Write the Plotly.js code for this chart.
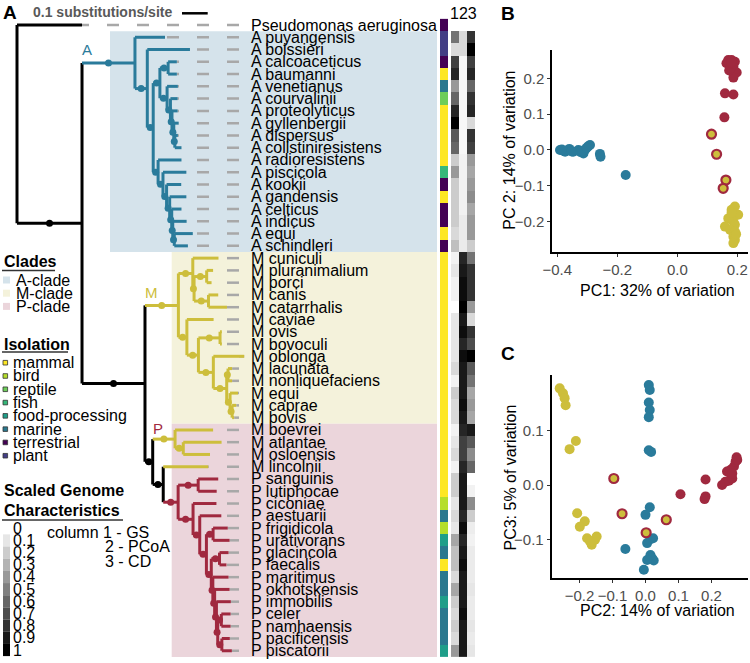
<!DOCTYPE html>
<html><head><meta charset="utf-8">
<script src="https://cdn.plot.ly/plotly-3.0.1.min.js"></script>
<style>html,body{margin:0;padding:0;background:#fff}#chart{width:750px;height:663px}</style>
</head><body><div id="chart"></div>
<script>
// ---------------- DATA ----------------
// Phylogeny (branch lengths in substitutions/site)
const treeNewick = "(Pseudomonas_aeruginosa:0.253,((A_puyangensis:0.117,(A_boissieri:0.166,(((A_calcoaceticus:0.034,A_baumanni:0.034):0.032,(A_venetianus:0.042,(A_courvalinii:0.028,(A_proteolyticus:0.022,(A_gyllenbergii:0.019,(A_dispersus:0.012,A_colistiniresistens:0.026):0.004):0.007):0.006):0.013):0.028):0.026,(A_radioresistens:0.091,(A_piscicola:0.091,(A_kookii:0.057,(A_gandensis:0.065,(A_celticus:0.038,(A_indicus:0.054,(A_equi:0.072,A_schindleri:0.053):0.006):0.004):0.008):0.012):0.014):0.019):0.019):0.023):0.048):0.206,(((M_cuniculi:0.100,((M_pluranimalium:0.025,M_porci:0.019):0.049,(M_canis:0.038,M_catarrhalis:0.072):0.056):0.005):0.056,(M_caviae:0.104,((M_ovis:0.007,M_bovoculi:0.007):0.084,(M_oblonga:0.120,((M_lacunata:0.016,M_nonliquefaciens:0.016):0.005,(M_equi:0.031,(M_caprae:0.016,M_bovis:0.008):0.008):0.013):0.052):0.058):0.045):0.033):0.130,((M_boevrei:0.148,(M_atlantae:0.149,M_osloensis:0.104):0.032):0.087,(M_lincolnii:0.175,((P_sanguinis:0.078,P_lutiphocae:0.072):0.078,(P_ciconiae:0.091,(P_aestuarii:0.084,((P_frigidicola:0.057,P_urativorans:0.064):0.026,((P_glacincola:0.035,P_faecalis:0.027):0.032,(P_maritimus:0.061,(P_okhotskensis:0.058,(P_immobilis:0.056,((P_celer:0.036,P_namhaensis:0.036):0.014,(P_pacificensis:0.031,P_piscatorii:0.039):0.016):0.005):0.007):0.007):0.006):0.019):0.026):0.026):0.058):0.058):0.041):0.030):0.245):0.253);";

const taxa = ['Pseudomonas aeruginosa','A puyangensis','A boissieri','A calcoaceticus','A baumanni','A venetianus','A courvalinii','A proteolyticus','A gyllenbergii','A dispersus','A colistiniresistens','A radioresistens','A piscicola','A kookii','A gandensis','A celticus','A indicus','A equi','A schindleri','M cuniculi','M pluranimalium','M porci','M canis','M catarrhalis','M caviae','M ovis','M bovoculi','M oblonga','M lacunata','M nonliquefaciens','M equi','M caprae','M bovis','M boevrei','M atlantae','M osloensis','M lincolnii','P sanguinis','P lutiphocae','P ciconiae','P aestuarii','P frigidicola','P urativorans','P glacincola','P faecalis','P maritimus','P okhotskensis','P immobilis','P celer','P namhaensis','P pacificensis','P piscatorii'];

const isolationCategories = ['mammal','bird','reptile','fish','food-processing','marine','terrestrial','plant'];
const isolationColors = ['#FDE725','#B5DE2B','#6DCD59','#35B779','#1F9E89','#2A788E','#440154','#433E85'];
const taxonIsolation = ['terrestrial','plant','plant','terrestrial','mammal','marine','reptile','mammal','mammal','mammal','mammal','mammal','fish','terrestrial','mammal','terrestrial','terrestrial','mammal','terrestrial',
 'mammal','mammal','mammal','mammal','mammal','mammal','mammal','mammal','mammal','mammal','mammal','mammal','mammal','mammal','mammal','mammal','mammal','mammal','mammal','mammal',
 'bird','marine','bird','food-processing','marine','mammal','marine','marine','food-processing','marine','marine','marine','food-processing'];

const heatColumns = ['1','2','3'];
const gsScaled   = [null,0.55,0.15,0.75,0.85,0.4,0.6,0.85,1.0,0.65,0.6,0.2,0.4,0.2,0.2,0.2,0.2,0.15,0.25, 0.05,0.1,0.05,0.05,0.0,0.1,0.1,0.1,0.1,0.15,0.05,0.2,0.15,0.15, 0.05,0.1,0.15,0.05, 0.2,0.2,0.1,0.15,0.1,0.35,0.25,0.25,0.15,0.35,0.2,0.15,0.2,0.15,0.4];
const pcoaScaled = [null,0.15,0.15,0.03,0.03,0.03,0.03,0.03,0.03,0.03,0.03,0.05,0.05,0.05,0.05,0.05,0.08,0.08,0.08, 0.85,0.9,0.95,0.95,1.0,0.9,0.95,0.85,0.95,0.9,0.9,0.9,0.95,0.9, 0.85,0.75,0.75,0.85, 0.9,0.9,0.9,0.85,0.95,0.85,0.9,0.95,0.9,0.9,0.9,0.95,0.9,0.9,0.9];
const cdScaled   = [null,0.8,1.0,0.75,0.85,0.6,0.8,0.85,0.15,0.8,0.75,0.4,0.35,0.4,0.45,0.35,0.4,0.4,0.2, 0.55,0.8,0.8,0.8,0.4,0.15,0.8,0.7,1.0,0.65,0.55,0.35,0.4,0.35, 0.9,0.65,0.45,0.6, 0.0,0.05,0.45,0.2,0.07,0.05,0.08,0.08,0.08,0.1,0.08,0.08,0.1,0.08,0.1];

const cladeNames = ['A-clade','M-clade','P-clade'];
const cladeFirst = ['A puyangensis','M cuniculi','M boevrei'];
const cladeLast  = ['A schindleri','M bovis','P piscatorii'];
const cladeBoxColors = ['#D5E3EB','#F4F2DB','#EBD5DB'];
const genusColors = {A:'#2A7B9B', M:'#CDBE3C', P:'#A0293F'};
const scaleLegendValues = [0,0.1,0.2,0.3,0.4,0.5,0.6,0.7,0.8,0.9,1];
const scaleLegendLabels = ['0','0.1','0.2','0.3','0.4','0.5','0.6','0.7','0.8','0.9','1'];
const scaleBarLength = 0.1;

// Panel B: PC1 vs PC2
const bA_pc1 = [-0.391,-0.374,-0.36,-0.347,-0.33,-0.313,-0.308,-0.297,-0.291,-0.38,-0.352,-0.322,-0.318,-0.302,-0.258,-0.256,-0.172,-0.385];
const bA_pc2 = [0.0,-0.005,0.003,-0.005,0.0,-0.01,0.0,0.01,0.014,-0.002,-0.004,-0.006,-0.002,0.006,-0.011,-0.019,-0.07,0.001];
const bP_pc1 = [0.17,0.181,0.192,0.176,0.187,0.164,0.198,0.187,0.173,0.178,0.183,0.159,0.187,0.157,0.18];
const bP_pc2 = [0.251,0.251,0.246,0.237,0.232,0.242,0.216,0.202,0.222,0.228,0.24,0.158,0.155,0.091,0.245];
const bM_pc1 = [0.192,0.181,0.203,0.17,0.187,0.159,0.192,0.176,0.192,0.187,0.192,0.187,0.181,0.196];
const bM_pc2 = [-0.158,-0.167,-0.181,-0.191,-0.2,-0.214,-0.209,-0.223,-0.228,-0.242,-0.251,-0.26,-0.175,-0.235];
const bMp_pc1 = [0.114,0.131,0.162,0.153];
const bMp_pc2 = [0.044,-0.012,-0.084,-0.107];

// Panel C: PC2 vs PC3
const cA_pc2 = [0.010,0.013,0.010,0.013,0.010,0.010,0.017,0.013,0.0,0.015,0.005,0.015,0.02,0.025,-0.005,-0.061,0.023,0.005];
const cA_pc3 = [0.184,0.175,0.152,0.138,0.125,0.064,0.061,-0.041,-0.055,-0.1,-0.107,-0.129,-0.135,-0.139,-0.156,-0.118,-0.098,-0.138];
const cP_pc2 = [0.106,0.182,0.182,0.179,0.232,0.242,0.253,0.263,0.247,0.258,0.268,0.273,0.276,0.278,0.263];
const cP_pc3 = [-0.017,0.010,-0.021,-0.026,0.0,0.006,0.008,0.012,0.025,0.028,0.034,0.043,0.051,0.046,0.021];
const cM_pc2 = [-0.26,-0.25,-0.245,-0.242,-0.211,-0.23,-0.207,-0.184,-0.199,-0.177,-0.163,-0.153,-0.148,-0.168];
const cM_pc3 = [0.178,0.169,0.16,0.147,0.081,0.066,-0.052,-0.067,-0.077,-0.098,-0.11,-0.101,-0.095,-0.104];
const cMp_pc2 = [-0.096,-0.071,0.002,0.063];
const cMp_pc3 = [0.012,-0.053,-0.088,-0.064];

// ---------------- LAYOUT CONSTANTS ----------------
const W = 750, H = 663;
const FONT = 'Liberation Sans, Arial, Helvetica, sans-serif';
const ROW0_PX = 25, ROW_PX = 12.27;     // row placement
const TREE_ORIGIN_PX = 17, PX_PER_SUB = 257, TREE_W_PX = 480;
const px2d = px => (px - TREE_ORIGIN_PX) / PX_PER_SUB;
const PX = px => px / W;
const PY = py => 1 - py / H;
const rowOfPx = py => (py - ROW0_PX) / ROW_PX;

// ---------------- TREE ----------------
function parseNewick(s){
  let i = 0;
  function node(){
    const n = {children:[], name:'', len:0};
    if (s[i] === '('){
      i++; n.children.push(node());
      while (s[i] === ','){ i++; n.children.push(node()); }
      i++;
    }
    let name = '';
    while (i < s.length && !':,);'.includes(s[i])) name += s[i++];
    n.name = name;
    if (s[i] === ':'){ i++; let num=''; while (i < s.length && !',);'.includes(s[i])) num += s[i++]; n.len = parseFloat(num); }
    return n;
  }
  return node();
}
const root = parseNewick(treeNewick);
let rowCounter = 0;
const leaves = [];
function layout(n, px){
  n.x = px + n.len;
  if (!n.children.length){
    n.y = rowCounter++; n.label = n.name.replace(/_/g,' ');
    n.genus = n.label.split(' ')[0]; leaves.push(n);
  } else {
    n.children.forEach(c => { c.parent = n; layout(c, n.x); });
    n.y = n.children.reduce((a,c)=>a+c.y,0)/n.children.length;
    const g = n.children[0].genus;
    n.genus = n.children.every(c => c.genus === g) ? g : null;
  }
}
root.len = 0; layout(root, 0);
const colorOf = n => genusColors[n.genus] || '#000000';

const segs = {}, dots = {};
function collect(n){
  const col = colorOf(n);
  segs[col] = segs[col] || {x:[],y:[]};
  if (n.parent){
    segs[col].x.push(n.parent.x, n.x, null); segs[col].y.push(n.y, n.y, null);
    if (n.children.length){
      dots[col] = dots[col] || {x:[],y:[]};
      dots[col].x.push((n.parent.x + n.x)/2); dots[col].y.push(n.y);
    }
  }
  if (n.children.length){
    const ys = n.children.map(c=>c.y);
    segs[col].x.push(n.x, n.x, null); segs[col].y.push(Math.min(...ys), Math.max(...ys), null);
    n.children.forEach(collect);
  }
}
collect(root);

const traces = [];
const leaderEnd = px2d(239);
leaves.forEach(l => traces.push({type:'scatter', mode:'lines', x:[leaderEnd, l.x], y:[l.y, l.y],
  line:{color:'#A8A8A8', width:2.5, dash:'12px,18px'}, xaxis:'x', yaxis:'y', hoverinfo:'skip', showlegend:false}));
Object.keys(segs).forEach(col => traces.push({type:'scatter', mode:'lines', x:segs[col].x, y:segs[col].y,
  line:{color:col, width:3}, xaxis:'x', yaxis:'y', hoverinfo:'skip', showlegend:false}));
Object.keys(dots).forEach(col => traces.push({type:'scatter', mode:'markers', x:dots[col].x, y:dots[col].y,
  marker:{color:col, size:7}, xaxis:'x', yaxis:'y', hoverinfo:'skip', showlegend:false}));

const leafRow = {}; leaves.forEach(l => leafRow[l.label] = l.y);
const rows = taxa.map(t => leafRow[t]);

// isolation column
const isoScale = [];
isolationColors.forEach((c,k) => { isoScale.push([k/8, c]); isoScale.push([(k+1)/8, c]); });
traces.push({type:'heatmap', x:[0], y:rows, z:taxonIsolation.map(v => [isolationCategories.indexOf(v)]),
  colorscale:isoScale, zmin:-0.5, zmax:7.5, showscale:false, xaxis:'x2', yaxis:'y', hoverinfo:'skip'});
// genome characteristics
traces.push({type:'heatmap', x:[1,2,3], y:rows, z:taxa.map((t,i) => [gsScaled[i], pcoaScaled[i], cdScaled[i]]),
  colorscale:[[0,'#ffffff'],[1,'#000000']], zmin:0, zmax:1, showscale:false, xaxis:'x3', yaxis:'y', hoverinfo:'skip'});

// PCA panels
function pts(x, y, ax, color, hollow){
  return {type:'scatter', mode:'markers', x, y, xaxis:'x'+ax, yaxis:'y'+ax, hoverinfo:'skip', showlegend:false,
    cliponaxis:false,
    marker: hollow ? {color:genusColors.M, size:9, line:{color:genusColors.P, width:2.2}}
                   : {color, size:10, line:{width:0}}};
}
traces.push(pts(bA_pc1,bA_pc2,4,genusColors.A), pts(bP_pc1,bP_pc2,4,genusColors.P), pts(bM_pc1,bM_pc2,4,genusColors.M), pts(bMp_pc1,bMp_pc2,4,null,true));
traces.push(pts(cA_pc2,cA_pc3,5,genusColors.A), pts(cP_pc2,cP_pc3,5,genusColors.P), pts(cM_pc2,cM_pc3,5,genusColors.M), pts(cMp_pc2,cMp_pc3,5,null,true));

// ---------------- SHAPES & ANNOTATIONS ----------------
const shapes = [], ann = [];
const txt = (text, x, y, o={}) => ann.push(Object.assign({text, x:PX(x), y:PY(y), xref:'paper', yref:'paper',
  xanchor:'left', yanchor:'middle', showarrow:false, font:{family:FONT, size:16, color:'#000'}}, o));
const rectPx = (x0,y0,x1,y1,fill,line) => shapes.push({type:'rect', xref:'paper', yref:'paper',
  x0:PX(x0), x1:PX(x1), y0:PY(y1), y1:PY(y0), fillcolor:fill, line: line || {width:0}});
const linePx = (x0,y0,x1,y1,w,c) => shapes.push({type:'line', xref:'paper', yref:'paper',
  x0:PX(x0), x1:PX(x1), y0:PY(y0), y1:PY(y1), line:{width:w, color:c}});

// clade highlight boxes
const boxLeftPx = [110, 171.7, 171.7];
cladeNames.forEach((c,k) => shapes.push({type:'rect', layer:'below', xref:'x', yref:'y',
  x0:px2d(boxLeftPx[k]), x1:px2d(437), y0:leafRow[cladeFirst[k]]-0.5, y1:leafRow[cladeLast[k]]+0.5,
  fillcolor:cladeBoxColors[k], line:{width:0}}));

// species labels
leaves.forEach(l => ann.push({text:l.label, x:px2d(248.5), y:l.y, xref:'x', yref:'y', xanchor:'left', yanchor:'middle',
  showarrow:false, font:{family:FONT, size:16, color:'#000'}}));

// clade letters on tree
txt('A', 87, 50, {xanchor:'center', font:{family:FONT, size:15, color:genusColors.A}});
txt('M', 151.7, 292.5, {xanchor:'center', font:{family:FONT, size:15, color:genusColors.M}});
txt('P', 158, 428, {xanchor:'center', font:{family:FONT, size:15, color:genusColors.P}});

// panel letters and scale bar
txt('<b>A</b>', 10, 12, {xanchor:'center', font:{family:FONT, size:19, color:'#000'}});
txt('<b>B</b>', 508, 13, {xanchor:'center', font:{family:FONT, size:19, color:'#000'}});
txt('<b>C</b>', 508, 353, {xanchor:'center', font:{family:FONT, size:19, color:'#000'}});
txt('<b>0.1 substitutions/site</b>', 31, 11.7, {font:{family:FONT, size:14, color:'#595959'}});
shapes.push({type:'line', xref:'x', yref:'paper', x0:px2d(182), x1:px2d(182)+scaleBarLength, y0:PY(13.3), y1:PY(13.3), line:{width:2.5, color:'#000'}});
ann.push({text:heatColumns.join(''), x:2, y:PY(13), xref:'x3', yref:'paper', xanchor:'center', yanchor:'middle', showarrow:false, font:{family:FONT, size:16, color:'#000'}});

// legend: clades
txt('<b>Clades</b>', 1.7, 262);
linePx(2, 270.5, 55, 270.5, 1.5, '#333');
cladeNames.forEach((c,k) => { const y = 280 + 13.2*k; rectPx(3, y-3.5, 10, y+3.5, cladeBoxColors[k]); txt(c, 14, y); });
// legend: isolation
txt('<b>Isolation</b>', 1.7, 344);
linePx(2, 352, 68, 352, 1.5, '#333');
isolationCategories.forEach((c,k) => { const y = 362.7 + 13.29*k; rectPx(3, y-2.3, 7.6, y+2.3, isolationColors[k], {width:0.8, color:'#333'}); txt(c, 10.7, y); });
// legend: scaled genome characteristics
txt('<b>Scaled Genome</b>', 1.7, 490.7);
txt('<b>Characteristics</b>', 1.7, 510);
linePx(2, 520, 123, 520, 1.5, '#333');
scaleLegendValues.forEach((v,k) => {
  const y = 528.3 + 12.17*k; const g = Math.round(255*(1-v));
  rectPx(3, y-6.1, 10, y+6.1, `rgb(${g},${g},${g})`); txt(scaleLegendLabels[k], 10.7, y);
});
txt('column 1 - GS', 45, 532.3);
txt('2 - PCoA', 103, 546.7);
txt('3 - CD', 103, 561.7);

// PCA axis titles
const t16 = {family:FONT, size:16, color:'#000'};
txt('PC 2: 14% of variation', 510, 150.7, {xanchor:'center', textangle:-90, font:t16});
txt('PC1: 32% of variation', 657.5, 290, {xanchor:'center', font:t16});
txt('PC3: 5% of variation', 510, 477.5, {xanchor:'center', textangle:-90, font:t16});
txt('PC2: 14% of variation', 657.5, 610, {xanchor:'center', font:t16});

const hidden = {visible:false, showgrid:false, zeroline:false, fixedrange:true};
const pcAxis = (domain, range, tickvals, anchor) => ({domain, range, anchor, tickvals, tickformat:'.1f',
  showline:true, linewidth:2, linecolor:'#000', ticks:'outside', ticklen:3, tickwidth:1, tickcolor:'#333',
  tickfont:{family:FONT, size:15, color:'#4D4D4D'}, showgrid:false, zeroline:false, fixedrange:true});

const layoutObj = {
  width:W, height:H, margin:{l:0,r:0,t:0,b:0}, paper_bgcolor:'#fff', plot_bgcolor:'rgba(0,0,0,0)',
  showlegend:false, font:{family:FONT},
  xaxis: Object.assign({}, hidden, {domain:[0, TREE_W_PX/W], range:[px2d(0), px2d(TREE_W_PX)], anchor:'y'}),
  yaxis: Object.assign({}, hidden, {domain:[0,1], range:[rowOfPx(H), rowOfPx(0)], anchor:'x'}),
  xaxis2: Object.assign({}, hidden, {domain:[440/W, 448/W], range:[-0.5,0.5], anchor:'y'}),
  xaxis3: Object.assign({}, hidden, {domain:[451/W, 475/W], range:[0.5,3.5], anchor:'y'}),
  xaxis4: pcAxis([552.3/W, 748/W], [-0.4167, 0.2357], [-0.4,-0.2,0,0.2], 'y4'),
  yaxis4: pcAxis([PY(251.7), PY(50)], [-0.284, 0.279], [-0.2,-0.1,0,0.1,0.2], 'x4'),
  xaxis5: pcAxis([551.7/W, 748/W], [-0.2842, 0.3106], [-0.2,-0.1,0,0.1,0.2], 'y5'),
  yaxis5: pcAxis([PY(578), PY(375)], [-0.1713, 0.2026], [-0.1,0,0.1], 'x5'),
  shapes, annotations: ann
};
Plotly.newPlot('chart', traces, layoutObj, {staticPlot:true, displayModeBar:false});
</script>
</body></html>
